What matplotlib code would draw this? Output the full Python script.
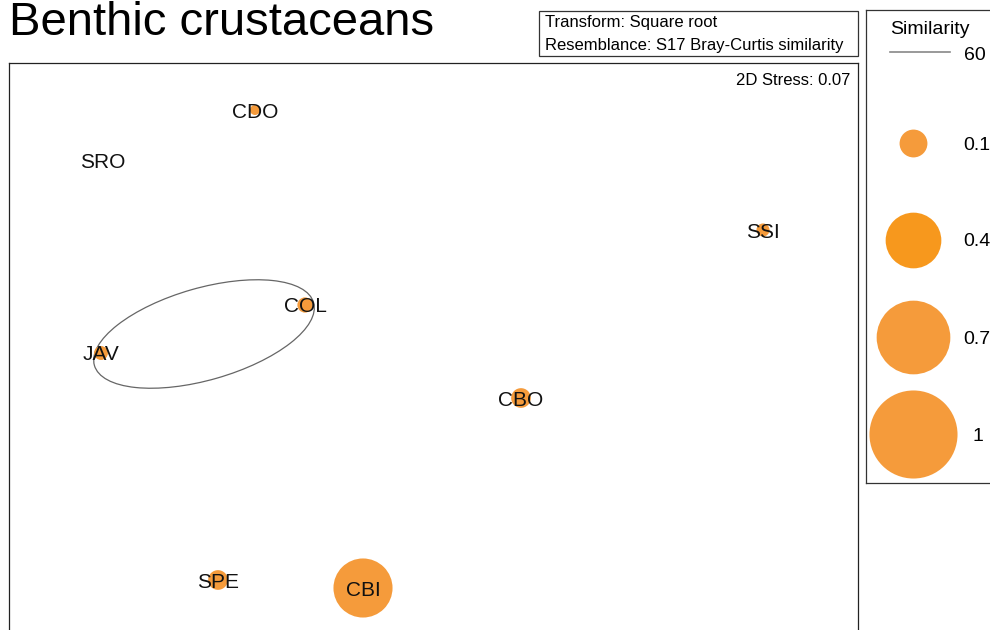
import matplotlib.pyplot as plt
from matplotlib.patches import Ellipse, Rectangle

plt.rcParams['font.family'] = ['Liberation Sans', 'DejaVu Sans']

# MDS coordinates of the sites
sites = ['CDO', 'SRO', 'SSI', 'COL', 'JAV', 'CBO', 'SPE', 'CBI']
mds_x = [-0.714, -1.322, 1.318, -0.514, -1.33, 0.35, -0.862, -0.282]
mds_y = [0.966, 0.762, 0.486, 0.186, -0.006, -0.186, -0.914, -0.946]
# bubble variable (area proportional)
bubble = [0.013, 0.0, 0.022, 0.03, 0.025, 0.05, 0.05, 0.45]

legend_vals = [0.1, 0.4, 0.7, 1]
legend_labels = ['0.1', '0.4', '0.7', '1']
legend_colors = ['#F59B3B', '#F7981D', '#F59B3B', '#F59B3B']

# similarity 60 contour: center, width, height, angle
contour = (-0.918, 0.07, 0.912, 0.368, 16)

smax = 4020  # points^2 for value 1
orange = '#F59B3B'

fig = plt.figure(figsize=(9.9, 6.3), dpi=100)

# main MDS axes (extends below the visible area)
ax = fig.add_axes([9/990, 1-640/630, 849/990, 577/630])
ax.set_xlim(-1.698, 1.698)
ax.set_ylim(-1.154, 1.154)
ax.set_xticks([])
ax.set_yticks([])
for sp in ax.spines.values():
    sp.set_linewidth(0.9)
    sp.set_color('#222222')

ax.scatter(mds_x, mds_y, s=[b*smax for b in bubble], color=orange, linewidths=0, zorder=2)
for name, x, y in zip(sites, mds_x, mds_y):
    ax.text(x, y, name, fontsize=15, ha='center', va='center_baseline', color='#111111', zorder=3)

cx, cy, w, h, ang = contour
ax.add_patch(Ellipse((cx, cy), w, h, angle=ang, fill=False, edgecolor='#666666', linewidth=0.9, zorder=1))

ax.text(0.9915, 0.983, '2D Stress: 0.07', transform=ax.transAxes, ha='right', va='top', fontsize=12)

# title
fig.text(9/990, 1-35/630, 'Benthic crustaceans', fontsize=34, ha='left', va='baseline')

# info box
fig.patches.append(Rectangle((539/990, 1-56/630), 319/990, 45/630, transform=fig.transFigure,
                             facecolor='white', edgecolor='#333333', linewidth=0.9))
fig.text(545/990, 1-21/630, 'Transform: Square root', fontsize=12, ha='left', va='center_baseline')
fig.text(545/990, 1-44/630, 'Resemblance: S17 Bray-Curtis similarity', fontsize=12,
         ha='left', va='center_baseline')

# legend panel
lg = fig.add_axes([866/990, 1-483/630, 160/990, 473/630])
lg.set_xlim(0, 1)
lg.set_ylim(0, 1)
lg.set_xticks([])
lg.set_yticks([])
for sp in lg.spines.values():
    sp.set_linewidth(0.9)
    sp.set_color('#333333')

lg.text(24/160, 1-17/473, 'Similarity', fontsize=14, ha='left', va='center_baseline')
lg.plot([24/160, 84/160], [1-42/473, 1-42/473], color='#888888', linewidth=1.2)
lg.text(98/160, 1-43/473, '60', fontsize=14, ha='left', va='center_baseline')

ys = [133, 230, 327, 424]
for v, lab, c, yy in zip(legend_vals, legend_labels, legend_colors, ys):
    lg.scatter([47/160], [1-yy/473], s=v*smax, color=c, linewidths=0)
    xoff = 97 if lab != '1' else 107
    lg.text(xoff/160, 1-yy/473, lab, fontsize=14, ha='left', va='center_baseline')

plt.savefig('out.png', dpi=100)
